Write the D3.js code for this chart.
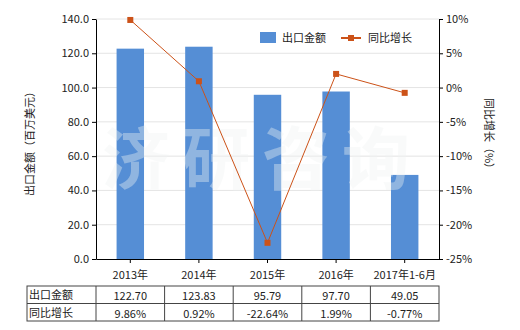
<!DOCTYPE html>
<html>
<head>
<meta charset="utf-8">
<script src="https://cdn.jsdelivr.net/npm/d3@7"></script>
<style>
  body { margin: 0; background: #fff; }
  text { font-family: "Noto Sans CJK SC", "DejaVu Sans", sans-serif; font-size: 11px; fill: #222; }
  .grid line { stroke: #e4e4e4; }
  .axis path, .axis line { stroke: #000; }
</style>
</head>
<body>
<div id="chart"></div>
<script>
const years = ["2013年", "2014年", "2015年", "2016年", "2017年1-6月"];
const exportValue = [122.70, 123.83, 95.79, 97.70, 49.05];
const growth = [9.86, 0.92, -22.64, 1.99, -0.77];
const leftTicks = [0, 20, 40, 60, 80, 100, 120, 140];
const rightTicks = [-25, -20, -15, -10, -5, 0, 5, 10];
const rowNames = ["出口金额", "同比增长"];

const w = 520, h = 330;
const padL = 96, padR = 439, padT = 19, padB = 259;
const barColor = "#558ed5";
const lineColor = "#cc5218";

const svg = d3.select("#chart").append("svg")
  .attr("width", w)
  .attr("height", h);

const x = d3.scaleBand().domain(years).range([padL, padR]);
const yL = d3.scaleLinear().domain([0, 140]).range([padB, padT]);
const yR = d3.scaleLinear().domain([-25, 10]).range([padB, padT]);

// gridlines
svg.append("g")
  .attr("class", "grid")
  .selectAll("line")
  .data(leftTicks.slice(1))
  .enter().append("line")
  .attr("x1", padL).attr("x2", padR)
  .attr("y1", d => yL(d)).attr("y2", d => yL(d));

// bars
const bw = x.bandwidth() * 0.4;
svg.selectAll(".bar")
  .data(exportValue)
  .enter().append("rect")
  .attr("class", "bar")
  .attr("x", (d, i) => x(years[i]) + x.bandwidth() / 2 - bw / 2)
  .attr("width", bw)
  .attr("y", d => yL(d))
  .attr("height", d => padB - yL(d))
  .attr("fill", barColor);

// watermark
svg.append("text")
  .attr("x", 262)
  .attr("y", 184)
  .attr("text-anchor", "middle")
  .style("font-size", "68px")
  .style("font-weight", "bold")
  .style("letter-spacing", "12px")
  .style("fill", "#f0f4f4")
  .style("opacity", 0.38)
  .text("济研咨询");

// axes
svg.append("g")
  .attr("class", "axis")
  .attr("transform", "translate(" + padL + ",0)")
  .call(d3.axisLeft(yL).tickValues(leftTicks).tickSize(4).tickSizeOuter(0).tickFormat(d3.format(".1f")));
svg.append("g")
  .attr("class", "axis")
  .attr("transform", "translate(" + padR + ",0)")
  .call(d3.axisRight(yR).tickValues(rightTicks).tickSize(4).tickSizeOuter(0).tickFormat(d => d + "%"));
const axB = svg.append("g")
  .attr("class", "axis")
  .attr("transform", "translate(0," + padB + ")")
  .call(d3.axisBottom(x).tickSize(4).tickSizeOuter(0).tickPadding(6));
axB.selectAll("text").attr("dy", "0.9em");
svg.selectAll(".axis text").style("font-family", "\"Noto Sans CJK SC\", sans-serif").style("font-size", "11px");

// growth line
const cx = (d, i) => x(years[i]) + x.bandwidth() / 2;
const line = d3.line().x(cx).y(d => yR(d));
svg.append("path")
  .datum(growth)
  .attr("d", line)
  .attr("fill", "none")
  .attr("stroke", lineColor)
  .attr("stroke-width", 1);
svg.selectAll(".pt")
  .data(growth)
  .enter().append("rect")
  .attr("class", "pt")
  .attr("x", (d, i) => cx(d, i) - 3)
  .attr("y", d => yR(d) - 3)
  .attr("width", 6).attr("height", 6)
  .attr("fill", lineColor);

// axis titles
svg.append("text")
  .attr("transform", "translate(34," + 141 + ")rotate(-90)")
  .attr("text-anchor", "middle")
  .text("出口金额（百万美元）");
svg.append("text")
  .attr("transform", "translate(485," + 136 + ")rotate(90)")
  .attr("text-anchor", "middle")
  .text("同比增长（%）");

// legend
svg.append("rect").attr("x", 260).attr("y", 32).attr("width", 16).attr("height", 11).attr("fill", barColor);
svg.append("text").attr("x", 282).attr("y", 42).text("出口金额");
svg.append("line").attr("x1", 341).attr("x2", 361).attr("y1", 38).attr("y2", 38).attr("stroke", lineColor).attr("stroke-width", 2);
svg.append("rect").attr("x", 348).attr("y", 35).attr("width", 6).attr("height", 6).attr("fill", lineColor);
svg.append("text").attr("x", 368).attr("y", 42).text("同比增长");

// data table
const tTop = 286, rowH = 17.5, tLeft = 27;
const tbl = svg.append("g");
const rows = [exportValue.map(d => d.toFixed(2)), growth.map(d => d.toFixed(2) + "%")];
tbl.append("rect")
  .attr("x", tLeft).attr("y", tTop)
  .attr("width", padR - tLeft).attr("height", rowH * 2)
  .attr("fill", "none").attr("stroke", "#444");
tbl.append("line")
  .attr("x1", tLeft).attr("x2", padR)
  .attr("y1", tTop + rowH).attr("y2", tTop + rowH)
  .attr("stroke", "#444");
[padL].concat(years.slice(1).map(d => x(d))).forEach(v => {
  tbl.append("line").attr("x1", v).attr("x2", v)
    .attr("y1", tTop).attr("y2", tTop + rowH * 2).attr("stroke", "#444");
});
rows.forEach((r, ri) => {
  tbl.append("text")
    .attr("x", tLeft + 2).attr("y", tTop + rowH * ri + 13)
    .text(rowNames[ri]);
  r.forEach((v, i) => {
    tbl.append("text")
      .attr("x", cx(v, i)).attr("y", tTop + rowH * ri + 14)
      .attr("text-anchor", "middle")
      .text(v);
  });
});
</script>
</body>
</html>
